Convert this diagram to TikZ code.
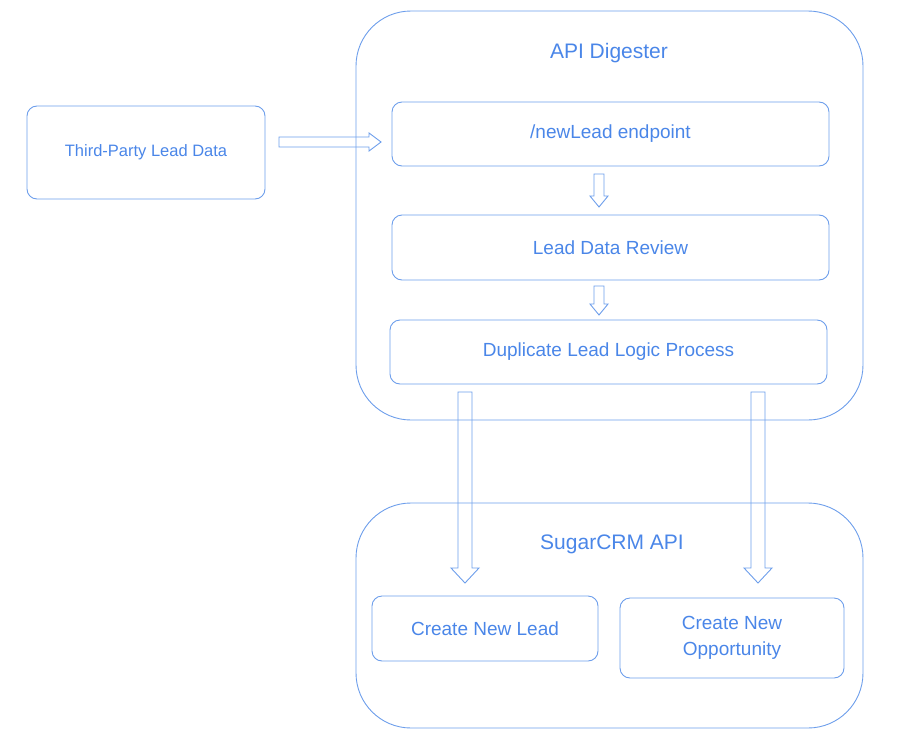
\documentclass[tikz,border=0pt]{standalone}
\usepackage{fontspec}
\setmainfont{Liberation Sans}
\definecolor{gblue}{HTML}{4A86E8}
\definecolor{gline}{HTML}{6D9EEB}
\tikzset{
  box/.style={draw=gline, rounded corners=10pt, line width=0.9pt, text=gblue},
  group/.style={draw=gline, rounded corners=55pt, line width=0.9pt},
  title/.style={text=gblue, font=\fontsize{21}{24}\selectfont},
  hollow/.style={draw=gline, line width=0.9pt, line join=miter}
}
% down-pointing hollow arrow: x, top y, bottom y, half shaft, half head, head length
\newcommand{\blockdown}[6]{%
  \draw[hollow] (#1-#4,#2) -- (#1+#4,#2) -- (#1+#4,#3-#6) -- (#1+#5,#3-#6)
    -- (#1,#3) -- (#1-#5,#3-#6) -- (#1-#4,#3-#6) -- cycle;}
\begin{document}
\begin{tikzpicture}[x=1pt,y=-1pt]
  \useasboundingbox (0,0) rectangle (897,739);
  % Groups
  \draw[group] (356,11) rectangle (863,420);
  \draw[group] (356,503) rectangle (863,728);
  \node[title] (digester) at (609,53) {API Digester};
  \node[title] (sugar) at (612,544) {SugarCRM API};
  % Boxes
  \node[box, minimum width=238pt, minimum height=93pt, font=\fontsize{16.5}{19}\selectfont] (third) at (146,152.5) {Third-Party Lead Data};
  \node[box, minimum width=437pt, minimum height=64pt, font=\fontsize{19}{22}\selectfont] (endpoint) at (610.5,134) {/newLead endpoint};
  \node[box, minimum width=437pt, minimum height=65pt, font=\fontsize{19}{22}\selectfont] (review) at (610.5,247.5) {Lead Data Review};
  \node[box, minimum width=437pt, minimum height=64pt, font=\fontsize{19}{22}\selectfont] (dup) at (608.5,352) {Duplicate Lead Logic Process};
  \node[box, minimum width=226pt, minimum height=65pt, font=\fontsize{19}{22}\selectfont] (newlead) at (485,628.5) {Create New Lead};
  \node[box, minimum width=224pt, minimum height=80pt, align=center, font=\fontsize{19}{26}\selectfont] (opp) at (732,638) {Create New\\Opportunity};
  % Arrows
  \draw[hollow] (279,137) -- (369,137) -- (369,133) -- (381,142) -- (369,151)
    -- (369,147) -- (279,147) -- cycle;
  \blockdown{599}{174}{207}{5}{9}{11}
  \blockdown{599}{286}{315}{5}{9}{11}
  \blockdown{465}{392}{583}{7}{14}{15}
  \blockdown{758}{392}{583}{7}{14}{15}
\end{tikzpicture}
\end{document}
